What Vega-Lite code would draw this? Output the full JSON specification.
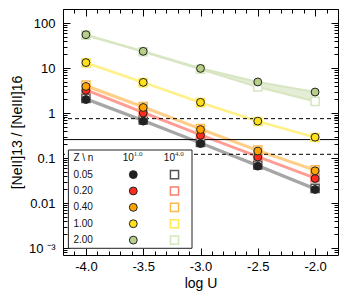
{
  "$schema": "https://vega.github.io/schema/vega-lite/v6.json",
  "width": 275,
  "height": 246,
  "autosize": {"type": "none"},
  "padding": {"left": 63, "top": 9, "right": 11, "bottom": 44},
  "config": {
    "view": {"stroke": "#000000", "strokeWidth": 1},
    "axis": {"labelFont": "Liberation Sans", "titleFont": "Liberation Sans", "labelColor": "#000000", "titleColor": "#000000", "tickColor": "#000000", "tickWidth": 1, "titleFontWeight": "normal", "labelOverlap": false, "labelFlush": false, "grid": false, "domain": false},
    "text": {"font": "Liberation Sans"}
  },
  "datasets": {
    "models": [
      {"Z": "0.05", "logU": -4.0, "c": 2.0, "s": 2.12},
      {"Z": "0.05", "logU": -3.5, "c": 0.66, "s": 0.70},
      {"Z": "0.05", "logU": -3.0, "c": 0.21, "s": 0.222},
      {"Z": "0.05", "logU": -2.5, "c": 0.066, "s": 0.07},
      {"Z": "0.05", "logU": -2.0, "c": 0.020, "s": 0.0212},
      {"Z": "0.20", "logU": -4.0, "c": 3.2, "s": 3.35},
      {"Z": "0.20", "logU": -3.5, "c": 1.0, "s": 1.05},
      {"Z": "0.20", "logU": -3.0, "c": 0.32, "s": 0.335},
      {"Z": "0.20", "logU": -2.5, "c": 0.105, "s": 0.11},
      {"Z": "0.20", "logU": -2.0, "c": 0.035, "s": 0.0365},
      {"Z": "0.40", "logU": -4.0, "c": 3.9, "s": 4.2},
      {"Z": "0.40", "logU": -3.5, "c": 1.33, "s": 1.4},
      {"Z": "0.40", "logU": -3.0, "c": 0.43, "s": 0.45},
      {"Z": "0.40", "logU": -2.5, "c": 0.143, "s": 0.15},
      {"Z": "0.40", "logU": -2.0, "c": 0.052, "s": 0.055},
      {"Z": "1.00", "logU": -4.0, "c": 13.2, "s": 13.0},
      {"Z": "1.00", "logU": -3.5, "c": 4.8, "s": 4.75},
      {"Z": "1.00", "logU": -3.0, "c": 1.73, "s": 1.7},
      {"Z": "1.00", "logU": -2.5, "c": 0.66, "s": 0.65},
      {"Z": "1.00", "logU": -2.0, "c": 0.29, "s": 0.285},
      {"Z": "2.00", "logU": -4.0, "c": 55, "s": 54},
      {"Z": "2.00", "logU": -3.5, "c": 23.5, "s": 23},
      {"Z": "2.00", "logU": -3.0, "c": 9.8, "s": 9.4},
      {"Z": "2.00", "logU": -2.5, "c": 4.9, "s": 3.8},
      {"Z": "2.00", "logU": -2.0, "c": 2.93, "s": 1.82}
    ],
    "refs": [
      {"ratio": 0.75, "style": "dashed"},
      {"ratio": 0.257, "style": "solid"},
      {"ratio": 0.121, "style": "dashed"}
    ],
    "zs": [{"Z": "0.05"}, {"Z": "0.20"}, {"Z": "0.40"}, {"Z": "1.00"}, {"Z": "2.00"}],
    "legendlabels": [
      {"row": "hdr", "lab": "Z \\ n"},
      {"row": "0.05", "lab": "0.05"},
      {"row": "0.20", "lab": "0.20"},
      {"row": "0.40", "lab": "0.40"},
      {"row": "1.00", "lab": "1.00"},
      {"row": "2.00", "lab": "2.00"}
    ],
    "legendhead": [
      {"col": "circle", "base": "10", "exp": "1.0"},
      {"col": "square", "base": "10", "exp": "4.0"}
    ],
    "legendbox": [{"box": "legend"}]
  },
  "layer": [
    {
      "layer": [
        {
          "data": {"name": "models"},
          "mark": {"type": "area", "fillOpacity": 1},
          "encoding": {
            "x": {"field": "logU", "type": "quantitative", "scale": {"domain": [-4.2, -1.8], "nice": false, "zero": false},
              "axis": {"orient": "bottom", "title": "log U", "titleFontSize": 14, "titlePadding": 3, "labelFontSize": 13, "labelPadding": 12, "tickSize": -7,
                "values": [-4, -3.5, -3, -2.5, -2],
                "labelExpr": "'-' + format(-datum.value, '.1f')"}},
            "y": {"field": "c", "type": "quantitative", "scale": {"type": "log", "domain": [0.0007, 205], "nice": false},
              "axis": {"orient": "left", "title": "[NeII]13 / [NeIII]16", "titleFontSize": 14, "titlePadding": 4, "labelFontSize": 13, "labelPadding": 15, "tickSize": -7,
                "values": [0.001, 0.01, 0.1, 1, 10, 100],
                "labelExpr": "datum.value == 0.001 ? '10 ⁻³' : '' + datum.value"}},
            "y2": {"field": "s"},
            "fill": {"field": "Z", "type": "nominal", "scale": {"domain": ["0.05", "0.20", "0.40", "1.00", "2.00"], "range": ["#b0b0b0", "#ffa8a0", "#ffd59a", "#fff29a", "#e4eed6"]}, "legend": null}
          }
        },
        {
          "data": {"name": "models"},
          "mark": {"type": "line", "strokeWidth": 2.2, "strokeCap": "round"},
          "encoding": {
            "x": {"field": "logU", "type": "quantitative",
              "axis": {"orient": "bottom", "labels": false, "title": null, "tickSize": -4,
                "values": [-4.1, -3.9, -3.8, -3.7, -3.6, -3.4, -3.3, -3.2, -3.1, -2.9, -2.8, -2.7, -2.6, -2.4, -2.3, -2.2, -2.1, -1.9]}},
            "y": {"field": "c", "type": "quantitative",
              "axis": {"orient": "left", "labels": false, "title": null, "tickSize": -4,
                "values": [0.0008, 0.0009, 0.002, 0.003, 0.004, 0.005, 0.006, 0.007, 0.008, 0.009, 0.02, 0.03, 0.04, 0.05, 0.06, 0.07, 0.08, 0.09, 0.2, 0.3, 0.4, 0.5, 0.6, 0.7, 0.8, 0.9, 2, 3, 4, 5, 6, 7, 8, 9, 20, 30, 40, 50, 60, 70, 80, 90, 200]}},
            "stroke": {"field": "Z", "type": "nominal", "scale": {"domain": ["0.05", "0.20", "0.40", "1.00", "2.00"], "range": ["#a6a6a6", "#ff9d94", "#ffcf8a", "#fff08a", "#d8e6c3"]}, "legend": null}
          }
        },
        {
          "data": {"name": "models"},
          "mark": {"type": "line", "strokeWidth": 2.2, "strokeCap": "round"},
          "encoding": {
            "x": {"field": "logU", "type": "quantitative",
              "axis": {"orient": "top", "labels": false, "title": null, "tickSize": -7, "values": [-4, -3.5, -3, -2.5, -2]}},
            "y": {"field": "s", "type": "quantitative",
              "axis": {"orient": "right", "labels": false, "title": null, "tickSize": -7, "values": [0.001, 0.01, 0.1, 1, 10, 100]}},
            "stroke": {"field": "Z", "type": "nominal", "scale": {"domain": ["0.05", "0.20", "0.40", "1.00", "2.00"], "range": ["#a6a6a6", "#ff9d94", "#ffcf8a", "#fff08a", "#d8e6c3"]}, "legend": null}
          }
        },
        {
          "data": {"name": "refs"},
          "mark": {"type": "rule", "color": "#000000", "strokeWidth": 1},
          "encoding": {
            "y": {"field": "ratio", "type": "quantitative", "axis": null},
            "strokeDash": {"field": "style", "type": "nominal", "scale": {"domain": ["dashed", "solid"], "range": [[4, 3], [1, 0]]}, "legend": null}
          }
        },
        {
          "data": {"name": "models"},
          "mark": {"type": "point", "shape": "square", "size": 66, "filled": true, "fill": "#ffffff", "strokeWidth": 1.5, "opacity": 1},
          "encoding": {
            "x": {"field": "logU", "type": "quantitative",
              "axis": {"orient": "top", "labels": false, "title": null, "tickSize": -4,
                "values": [-4.1, -3.9, -3.8, -3.7, -3.6, -3.4, -3.3, -3.2, -3.1, -2.9, -2.8, -2.7, -2.6, -2.4, -2.3, -2.2, -2.1, -1.9]}},
            "y": {"field": "s", "type": "quantitative",
              "axis": {"orient": "right", "labels": false, "title": null, "tickSize": -4,
                "values": [0.0008, 0.0009, 0.002, 0.003, 0.004, 0.005, 0.006, 0.007, 0.008, 0.009, 0.02, 0.03, 0.04, 0.05, 0.06, 0.07, 0.08, 0.09, 0.2, 0.3, 0.4, 0.5, 0.6, 0.7, 0.8, 0.9, 2, 3, 4, 5, 6, 7, 8, 9, 20, 30, 40, 50, 60, 70, 80, 90, 200]}},
            "stroke": {"field": "Z", "type": "nominal", "scale": {"domain": ["0.05", "0.20", "0.40", "1.00", "2.00"], "range": ["#555555", "#f7806e", "#ffb94a", "#ffe94f", "#d6e6bf"]}, "legend": null}
          }
        },
        {
          "data": {"name": "models"},
          "mark": {"type": "point", "shape": "circle", "size": 62, "filled": true, "stroke": "#222222", "strokeWidth": 1, "opacity": 1},
          "encoding": {
            "x": {"field": "logU", "type": "quantitative", "axis": null},
            "y": {"field": "c", "type": "quantitative", "axis": null},
            "fill": {"field": "Z", "type": "nominal", "scale": {"domain": ["0.05", "0.20", "0.40", "1.00", "2.00"], "range": ["#222222", "#ff2b1c", "#ffa400", "#ffe01a", "#b6d08a"]}, "legend": null}
          }
        }
      ],
      "resolve": {"scale": {"fill": "independent", "stroke": "independent"}, "axis": {"x": "independent", "y": "independent"}}
    },
    {
      "layer": [
        {
          "data": {"name": "legendbox"},
          "mark": {"type": "rect", "fill": "#ffffff", "stroke": "#222222", "strokeWidth": 1},
          "encoding": {
            "x": {"datum": "label", "type": "nominal", "bandPosition": 0, "scale": {"type": "band", "domain": ["label", "circle", "square"], "range": [5.4, 129], "paddingInner": 0, "paddingOuter": 0}, "axis": null},
            "x2": {"datum": "square", "bandPosition": 1},
            "y": {"datum": "hdr", "type": "nominal", "bandPosition": 0, "scale": {"type": "band", "domain": ["hdr", "0.05", "0.20", "0.40", "1.00", "2.00"], "range": [141, 239.3], "paddingInner": 0, "paddingOuter": 0}, "axis": null},
            "y2": {"datum": "2.00", "bandPosition": 1}
          }
        },
        {
          "data": {"name": "legendlabels"},
          "mark": {"type": "text", "align": "left", "baseline": "middle", "dx": 5, "fontSize": 10, "color": "#111111"},
          "encoding": {
            "x": {"datum": "label", "type": "nominal", "bandPosition": 0, "axis": null},
            "y": {"field": "row", "type": "nominal", "axis": null},
            "text": {"field": "lab"}
          }
        },
        {
          "data": {"name": "legendhead"},
          "mark": {"type": "text", "align": "right", "baseline": "middle", "dx": 0.5, "fontSize": 10, "color": "#111111"},
          "encoding": {
            "x": {"field": "col", "type": "nominal", "bandPosition": 0.575, "axis": null},
            "y": {"datum": "hdr", "type": "nominal", "axis": null},
            "text": {"field": "base"}
          }
        },
        {
          "data": {"name": "legendhead"},
          "mark": {"type": "text", "align": "left", "baseline": "middle", "dx": 0.5, "dy": -4, "fontSize": 7, "color": "#333333", "font": "Liberation Serif"},
          "encoding": {
            "x": {"field": "col", "type": "nominal", "bandPosition": 0.575, "axis": null},
            "y": {"datum": "hdr", "type": "nominal", "axis": null},
            "text": {"field": "exp"}
          }
        },
        {
          "data": {"name": "zs"},
          "mark": {"type": "point", "shape": "circle", "size": 62, "filled": true, "stroke": "#222222", "strokeWidth": 1, "opacity": 1},
          "encoding": {
            "x": {"datum": "circle", "type": "nominal", "bandPosition": 0.575, "axis": null},
            "y": {"field": "Z", "type": "nominal", "axis": null},
            "fill": {"field": "Z", "type": "nominal", "scale": {"domain": ["0.05", "0.20", "0.40", "1.00", "2.00"], "range": ["#222222", "#ff2b1c", "#ffa400", "#ffe01a", "#b6d08a"]}, "legend": null}
          }
        },
        {
          "data": {"name": "zs"},
          "mark": {"type": "point", "shape": "square", "size": 66, "filled": true, "fill": "#ffffff", "strokeWidth": 1.5, "opacity": 1},
          "encoding": {
            "x": {"datum": "square", "type": "nominal", "bandPosition": 0.575, "axis": null},
            "y": {"field": "Z", "type": "nominal", "axis": null},
            "stroke": {"field": "Z", "type": "nominal", "scale": {"domain": ["0.05", "0.20", "0.40", "1.00", "2.00"], "range": ["#555555", "#f7806e", "#ffb94a", "#ffe94f", "#d6e6bf"]}, "legend": null}
          }
        }
      ]
    }
  ],
  "resolve": {"scale": {"x": "independent", "y": "independent", "fill": "independent", "stroke": "independent"}}
}
